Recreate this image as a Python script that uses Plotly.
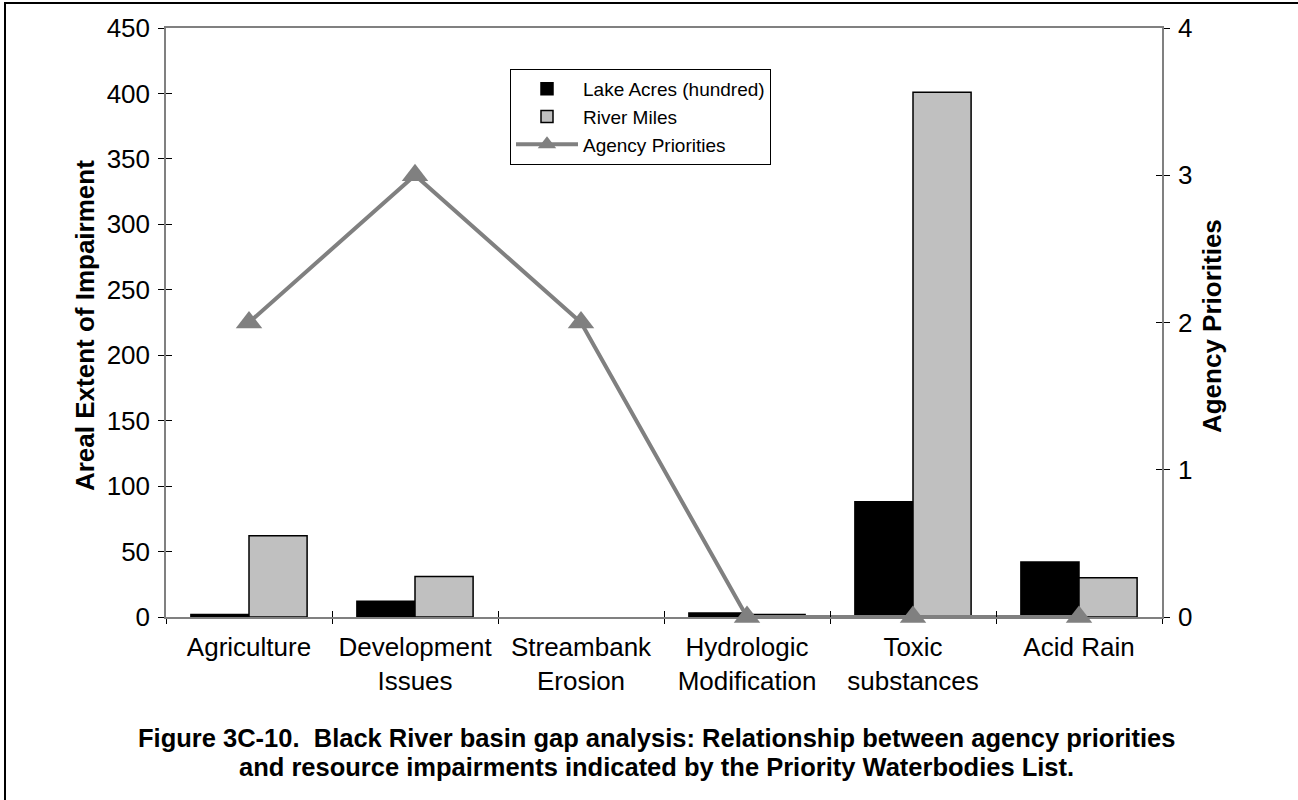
import plotly.graph_objects as go

categories = ["Agriculture", "Development<br>Issues", "Streambank<br>Erosion",
              "Hydrologic<br>Modification", "Toxic<br>substances", "Acid Rain"]
lake_acres = [2, 12, 0, 3, 88, 42]
river_miles = [62, 31, 0, 2, 401, 30]
agency_priorities = [2, 3, 2, 0, 0, 0]
left_ticks = [0, 50, 100, 150, 200, 250, 300, 350, 400, 450]
right_ticks = [0, 1, 2, 3, 4]

FONT = "Arial, Liberation Sans, sans-serif"
GRAY = "#808080"

fig = go.Figure()
fig.add_trace(go.Bar(x=categories, y=lake_acres, name="Lake Acres (hundred)",
                     marker=dict(color="black",
                                 line=dict(color="black",
                                           width=[1.5 if v > 0 else 0 for v in lake_acres]))))
fig.add_trace(go.Bar(x=categories, y=river_miles, name="River Miles",
                     marker=dict(color="#c0c0c0",
                                 line=dict(color="black",
                                           width=[1.5 if v > 0 else 0 for v in river_miles]))))
fig.add_trace(go.Scatter(x=categories, y=agency_priorities, name="Agency Priorities",
                         yaxis="y2", mode="lines+markers", cliponaxis=False,
                         line=dict(color=GRAY, width=4),
                         marker=dict(symbol="triangle-up", size=23, color=GRAY)))
# invisible helper traces for inward tick marks (cross ticks)
fig.add_trace(go.Scatter(x=categories, y=[None]*6, xaxis="x2", yaxis="y3",
                         showlegend=False, hoverinfo="skip", mode="lines"))
fig.add_trace(go.Scatter(x=categories, y=[None]*6, xaxis="x2", yaxis="y4",
                         showlegend=False, hoverinfo="skip", mode="lines"))

tickfont = dict(family=FONT, size=26, color="black")
fig.update_layout(
    width=1298, height=800,
    margin=dict(l=166, r=136, t=28, b=183),
    paper_bgcolor="white", plot_bgcolor="white",
    font=dict(family=FONT, color="black"),
    barmode="group", bargap=0.3, bargroupgap=0,
    xaxis=dict(categoryorder="array", categoryarray=categories,
               showline=True, linecolor=GRAY, linewidth=1.5, mirror=True,
               ticks="outside", tickson="boundaries", ticklen=5, tickcolor="black",
               tickwidth=1, showgrid=False, tickfont=tickfont, zeroline=False,
               ticklabelstandoff=6),
    xaxis2=dict(overlaying="x", matches="x", categoryorder="array", categoryarray=categories,
                showline=False, ticks="inside", tickson="boundaries", ticklen=6,
                tickcolor="black", showticklabels=False, showgrid=False, side="bottom"),
    yaxis=dict(range=[0, 450], tickvals=left_ticks, showline=True, linecolor=GRAY,
               linewidth=1.5, ticks="outside", ticklen=6, tickcolor="black",
               showgrid=False, zeroline=False, tickfont=tickfont, ticklabelstandoff=3),
    yaxis2=dict(range=[0, 4], tickvals=right_ticks, overlaying="y", side="right",
                showline=True, linecolor=GRAY, linewidth=1.5, ticks="outside",
                ticklen=6, tickcolor="black", showgrid=False, zeroline=False,
                tickfont=tickfont, ticklabelstandoff=3),
    yaxis3=dict(range=[0, 450], tickvals=left_ticks, overlaying="y", side="left",
                ticks="inside", ticklen=6, tickcolor="black", showticklabels=False,
                showgrid=False, zeroline=False, showline=False),
    yaxis4=dict(range=[0, 4], tickvals=right_ticks, overlaying="y", side="right",
                ticks="inside", ticklen=6, tickcolor="black", showticklabels=False,
                showgrid=False, zeroline=False, showline=False),
    legend=dict(x=(510 - 166) / 996, y=(617 - 69) / 589, xanchor="left", yanchor="top",
                bordercolor="black", borderwidth=1, bgcolor="white",
                font=dict(family=FONT, size=19, color="black"),
                tracegroupgap=0, itemwidth=62),
    showlegend=True,
)

fig.add_annotation(text="<b>Areal Extent of Impairment</b>", textangle=-90,
                   xref="paper", yref="paper", x=(85 - 166) / 996, y=0.494,
                   xanchor="center", yanchor="middle",
                   showarrow=False, font=dict(family=FONT, size=26, color="black"))
fig.add_annotation(text="<b>Agency Priorities</b>", textangle=-90,
                   xref="paper", yref="paper", x=(1212 - 166) / 996, y=0.494,
                   xanchor="center", yanchor="middle",
                   showarrow=False, font=dict(family=FONT, size=26, color="black"))
caption_lines = [
    "Figure 3C-10.\u00a0 Black River basin gap analysis: Relationship between agency priorities",
    "and resource impairments indicated by the Priority Waterbodies List.",
]
for line, ypix in zip(caption_lines, [738, 767]):
    fig.add_annotation(text="<b>" + line + "</b>", xref="paper", yref="paper",
                       x=(656 - 166) / 996, y=(617 - ypix) / 589,
                       xanchor="center", yanchor="middle", showarrow=False,
                       font=dict(family=FONT, size=25.5, color="black"))

fig.add_shape(type="rect", xref="paper", yref="paper",
              x0=(5 - 166) / 996, x1=(1310 - 166) / 996,
              y0=(617 - 810) / 589, y1=(617 - 3) / 589,
              line=dict(color="black", width=2), layer="below")

fig.write_html("out.html", config={"displayModeBar": False},
               post_script="document.body.style.margin='0';")
